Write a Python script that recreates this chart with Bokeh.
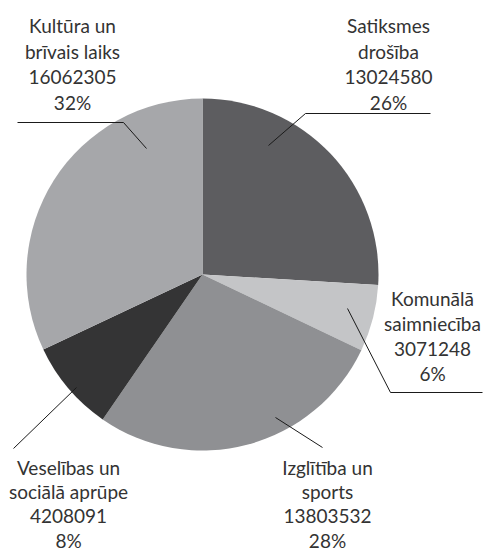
import math
from bokeh.plotting import figure
from bokeh.models import Range1d, ColumnDataSource
from bokeh.core.properties import value
from bokeh.embed import file_html
from bokeh.resources import INLINE

categories = ["Satiksmes drošība", "Komunālā saimniecība", "Izglītība un sports",
              "Veselības un sociālā aprūpe", "Kultūra un brīvais laiks"]
label_lines = [["Satiksmes", "drošība"], ["Komunālā", "saimniecība"], ["Izglītība un", "sports"],
               ["Veselības un", "sociālā aprūpe"], ["Kultūra un", "brīvais laiks"]]
amounts = [13024580, 3071248, 13803532, 4208091, 16062305]
colors = ["#5d5d60", "#c4c5c7", "#8f9093", "#343435", "#a6a7aa"]

W, H = 485, 552
CX, CY, R = 202, 274, 176

def Y(y):
    return H - y

total = sum(amounts)
starts, ends = [], []
cum = 0.0
for a in amounts:
    starts.append(math.pi / 2 - 2 * math.pi * cum / total)
    cum += a
    ends.append(math.pi / 2 - 2 * math.pi * cum / total)

p = figure(width=W, height=H, x_range=Range1d(0, W), y_range=Range1d(0, H),
           output_backend="svg", toolbar_location=None, min_border=0)
p.axis.visible = False
p.grid.visible = False
p.outline_line_color = None
p.background_fill_color = "white"

src = ColumnDataSource(dict(start=starts, end=ends, color=colors))
p.wedge(x=CX, y=Y(CY), radius=R, start_angle="start", end_angle="end",
        direction="clock", fill_color="color", line_color=None, source=src)

# leader lines (pixel layout)
leaders = [
    [(268, 145), (305, 113), (430, 113)],
    [(347, 308), (390, 392), (482, 392)],
    [(275, 417), (322, 447)],
    [(76, 387), (13, 448)],
    [(146, 148), (123, 122), (17, 122)],
]
for pts in leaders:
    p.line([q[0] for q in pts], [Y(q[1]) for q in pts], line_color="#1a1a1a", line_width=1)

# label anchors: (center x, first line y, line step)
anchors = [(388, 25, 25.5), (432, 298, 25.0), (327, 467, 24.3), (68, 467, 24.3), (72, 25, 25.5)]
tx, ty, tt = [], [], []
for lines, amt, (ax, ay, st) in zip(label_lines, amounts, anchors):
    pct = f"{round(100 * amt / total)}%"
    allines = lines + [str(amt), pct]
    for k, t in enumerate(allines):
        tx.append(ax)
        ty.append(Y(ay + k * st))
        tt.append(t)

p.text(x=tx, y=ty, text=tt, text_align="center", text_baseline="middle",
       text_font=value("Lato"), text_font_size="19px", text_color="#333333")

open("out.html", "w").write(file_html(p, INLINE))
